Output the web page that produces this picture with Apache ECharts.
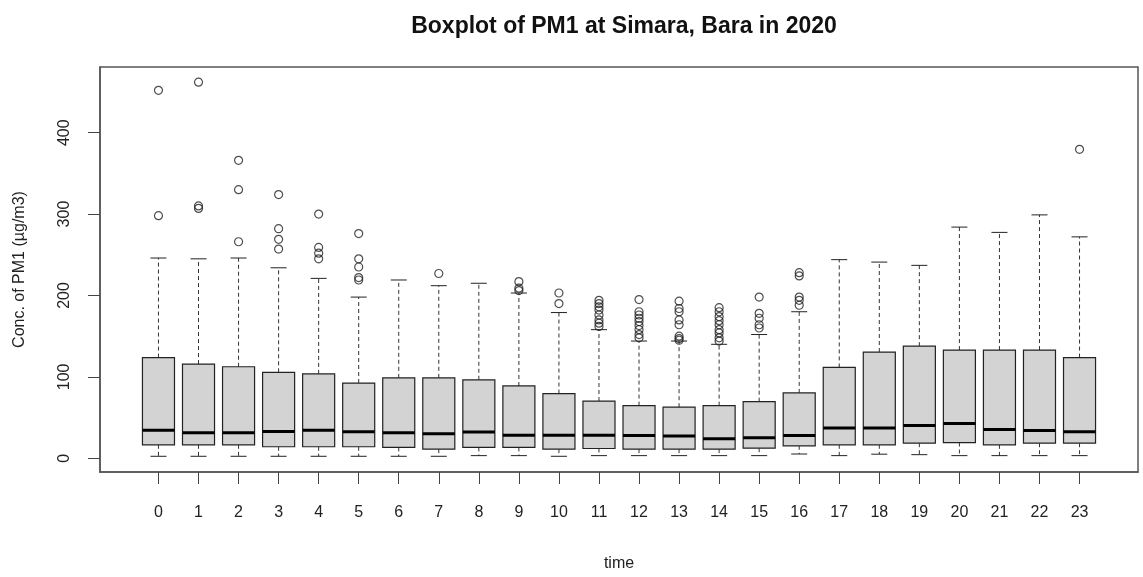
<!DOCTYPE html>
<html>
<head>
<meta charset="utf-8">
<script src="https://cdn.jsdelivr.net/npm/echarts@6/dist/echarts.min.js"></script>
<style>
html,body{margin:0;padding:0;background:#fff;}
#chart{width:1143px;height:577px;}
</style>
</head>
<body>
<div id="chart"></div>
<script>
const hours = ['0','1','2','3','4','5','6','7','8','9','10','11','12','13','14','15','16','17','18','19','20','21','22','23'];
const lowerWhisker = [2.4,2.4,2.4,2.4,2.4,2.4,2.4,2.4,3.2,3.2,2.4,3.2,3.2,3.2,3.2,3.2,5.2,3.2,5.0,4.4,3.2,3.2,3.2,3.2];
const q1 = [16.5,16.5,16.5,14.1,14.1,14.1,13.3,11.2,13.3,13.3,11.2,12.0,11.2,11.2,11.2,12.4,15.3,16.5,16.5,18.5,19.3,16.5,18.5,18.5];
const median = [34.5,31.3,31.3,32.9,34.5,32.5,31.3,30.1,32.1,28.1,28.1,28.1,28.0,27.3,24.1,25.3,28.0,37.3,37.3,40.2,42.6,35.3,34.1,32.5];
const q3 = [123.7,115.7,112.4,105.6,103.6,92.4,98.8,98.8,96.4,88.8,79.5,70.3,64.7,62.7,64.7,69.5,80.3,111.6,130.5,137.7,132.9,132.9,132.9,123.7];
const upperWhisker = [246,245,246,234,221,198,219,212,215,203,179,158,144,144,140,152,180,244,241,237,284,277.5,299,272];
const outliers = [
  [452,298],
  [462,310,307],
  [366,330,266],
  [324,282,269,257],
  [300,259,252,245],
  [276,245,235,222,219],
  [],
  [227],
  [],
  [217,209,206],
  [203,190],
  [194,190,186,182,176,170,166,162],
  [195,180,176,172,168,163,158,152,148],
  [193,184,180,170,164,150,147,145],
  [185,180,174,169,164,158,154,148,144],
  [198,178,172,164,160],
  [228,224,198,194,188],
  [],[],[],[],[],[],
  [379.5]
];
const yTicks = [0,100,200,300,400];

const boxData = hours.map((h,i)=>[i+1, lowerWhisker[i], q1[i], median[i], q3[i], upperWhisker[i]]);
const outlierData = [];
outliers.forEach((arr,i)=>arr.forEach(v=>outlierData.push([i+1, v])));
const xPos = hours.map((h,i)=>i+1);

function renderItem(params, api){
  const x = api.value(0);
  const lo = api.coord([x, api.value(1)]);
  const b1 = api.coord([x, api.value(2)]);
  const md = api.coord([x, api.value(3)]);
  const b3 = api.coord([x, api.value(4)]);
  const hi = api.coord([x, api.value(5)]);
  const w = api.size([0.8, 0])[0];
  const sw = w * 0.5;
  const cx = lo[0];
  const dash = {stroke:'#333', lineWidth:1, lineDash:[4,3]};
  const solid = {stroke:'#222', lineWidth:1};
  return {
    type:'group',
    children:[
      {type:'line', shape:{x1:cx,y1:b3[1],x2:cx,y2:hi[1]}, style:dash},
      {type:'line', shape:{x1:cx,y1:b1[1],x2:cx,y2:lo[1]}, style:dash},
      {type:'line', shape:{x1:cx-sw/2,y1:hi[1],x2:cx+sw/2,y2:hi[1]}, style:solid},
      {type:'line', shape:{x1:cx-sw/2,y1:lo[1],x2:cx+sw/2,y2:lo[1]}, style:solid},
      {type:'rect', shape:{x:cx-w/2,y:b3[1],width:w,height:b1[1]-b3[1]}, style:{fill:'#d3d3d3', stroke:'#222', lineWidth:1.2}},
      {type:'line', shape:{x1:cx-w/2,y1:md[1],x2:cx+w/2,y2:md[1]}, style:{stroke:'#000', lineWidth:3}}
    ]
  };
}

const chart = echarts.init(document.getElementById('chart'), null, {renderer:'canvas'});
const fontFamily = '"Liberation Sans", Arial, sans-serif';
chart.setOption({
  animation:false,
  backgroundColor:'#fff',
  title:{
    text:'Boxplot of PM1 at Simara, Bara in 2020',
    left:619, top:10, textAlign:'center',
    textStyle:{fontFamily, fontWeight:'bold', fontSize:23, color:'#111'}
  },
  grid:{left:100, right:5, top:67, bottom:97, show:true, borderColor:'#555', borderWidth:1.5, backgroundColor:'transparent'},
  xAxis:{
    type:'value', min:-0.46, max:25.46,
    name:'time', nameLocation:'middle', nameGap:84,
    nameTextStyle:{fontFamily, fontSize:16, color:'#222'},
    axisLine:{show:true, onZero:false, lineStyle:{color:'#555', width:1.5}},
    splitLine:{show:false},
    axisTick:{show:true, inside:false, length:12, customValues:xPos, lineStyle:{color:'#444'}},
    axisLabel:{customValues:xPos, margin:33, fontFamily, fontSize:16, color:'#222', formatter:v=>hours[Math.round(v)-1]}
  },
  yAxis:{
    type:'value', min:-16.9, max:480.7,
    name:'Conc. of PM1 (µg/m3)', nameLocation:'middle', nameGap:72,
    nameTextStyle:{fontFamily, fontSize:16, color:'#222'},
    axisLine:{show:true, onZero:false, lineStyle:{color:'#555', width:1.5}},
    splitLine:{show:false},
    axisTick:{show:true, inside:false, length:12, customValues:yTicks, lineStyle:{color:'#444'}},
    axisLabel:{customValues:yTicks, rotate:90, margin:27, fontFamily, fontSize:16, color:'#222'}
  },
  series:[
    {type:'custom', renderItem, data:boxData, encode:{x:0, y:[1,2,3,4,5]}, z:2},
    {type:'scatter', data:outlierData, symbol:'circle', symbolSize:8,
     itemStyle:{color:'rgba(0,0,0,0)', borderColor:'#222', borderWidth:1.2}, z:3}
  ]
});
</script>
</body>
</html>
